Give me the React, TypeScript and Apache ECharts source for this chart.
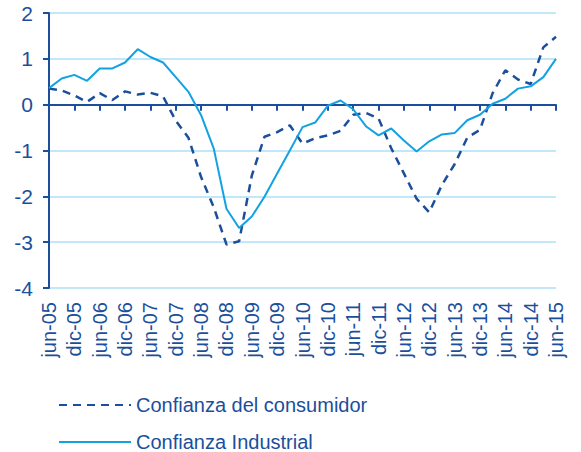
import React, { useEffect, useRef } from "react";
import * as echarts from "echarts";

const years = ["05", "06", "07", "08", "09", "10", "11", "12", "13", "14", "15"];
const quarterNames = ["mar", "jun", "sep", "dic"];
const categories: string[] = [];
for (let y = 0; y < years.length; y++) {
  for (let q = 0; q < 4; q++) {
    if (y === 0 && q === 0) continue;
    if (y === years.length - 1 && q > 1) continue;
    categories.push(quarterNames[q] + "-" + years[y]);
  }
}

const consumidor = [
  0.35, 0.31, 0.2, 0.06, 0.25, 0.1, 0.29, 0.22, 0.26, 0.18,
  -0.35, -0.72, -1.58, -2.24, -3.05, -2.98, -1.55, -0.7, -0.6, -0.45,
  -0.85, -0.73, -0.67, -0.57, -0.22, -0.18, -0.3, -0.95, -1.5, -2.05,
  -2.35, -1.75, -1.3, -0.72, -0.55, 0.25, 0.75, 0.55, 0.45, 1.25, 1.48,
];

const industrial = [
  0.36, 0.57, 0.65, 0.52, 0.79, 0.79, 0.92, 1.21, 1.04, 0.92,
  0.6, 0.28, -0.23, -0.96, -2.27, -2.69, -2.44, -2.01, -1.5, -1.0,
  -0.49, -0.39, -0.02, 0.09, -0.1, -0.47, -0.67, -0.52, -0.78, -1.02,
  -0.8, -0.65, -0.62, -0.34, -0.22, 0.02, 0.13, 0.35, 0.4, 0.6, 1.0,
];

const seriesNames = ["Confianza del consumidor", "Confianza Industrial"];

const DARK = "#1b4f9c";
const LIGHT = "#12a2e2";
const GRID = "#c2e7f8";
const FONT = "'Liberation Sans', Arial, sans-serif";

export default function App() {
  const ref = useRef<HTMLDivElement>(null);
  useEffect(() => {
    if (!ref.current) return;
    const chart = echarts.init(ref.current, undefined, { renderer: "svg" });
    chart.setOption({
      animation: false,
      backgroundColor: "#ffffff",
      textStyle: { fontFamily: FONT },
      grid: { left: 49, right: 25, top: 13, bottom: 164, containLabel: false },
      legend: {
        orient: "vertical",
        left: 53,
        top: 390,
        height: 100,
        itemWidth: 72,
        itemHeight: 14,
        itemGap: 17,
        data: seriesNames,
        itemStyle: { opacity: 0 },
        textStyle: { fontSize: 20, color: DARK, fontFamily: FONT },
      },
      xAxis: [
        {
          type: "category",
          data: categories,
          boundaryGap: false,
          axisLine: { show: true, onZero: true, lineStyle: { color: DARK, width: 2 } },
          axisTick: { show: true, interval: 1, length: 6, lineStyle: { color: DARK, width: 2 } },
          axisLabel: { show: false },
          splitLine: { show: false },
        },
        {
          type: "category",
          data: categories,
          boundaryGap: false,
          position: "bottom",
          axisLine: { show: false, onZero: false },
          axisTick: { show: false },
          axisLabel: {
            show: true,
            interval: 1,
            rotate: 90,
            margin: 14,
            fontSize: 20,
            color: DARK,
            fontFamily: FONT,
          },
          splitLine: { show: false },
        },
      ],
      yAxis: {
        type: "value",
        min: -4,
        max: 2,
        interval: 1,
        axisLine: { show: true, lineStyle: { color: DARK, width: 2 } },
        axisTick: { show: true, length: 6, lineStyle: { color: DARK, width: 2 } },
        axisLabel: { fontSize: 21, color: DARK, margin: 16, fontFamily: FONT },
        splitLine: { show: true, lineStyle: { color: GRID, width: 2 } },
      },
      series: [
        {
          name: seriesNames[0],
          type: "line",
          data: consumidor,
          symbol: "none",
          z: 3,
          lineStyle: { color: DARK, width: 2.5, type: [8, 6] },
          itemStyle: { color: DARK },
        },
        {
          name: seriesNames[1],
          type: "line",
          data: industrial,
          symbol: "none",
          z: 4,
          lineStyle: { color: LIGHT, width: 2 },
          itemStyle: { color: LIGHT },
        },
      ],
    });
    return () => chart.dispose();
  }, []);
  return (
    <div
      ref={ref}
      style={{ position: "absolute", left: 0, top: 0, width: 581, height: 452 }}
    />
  );
}
